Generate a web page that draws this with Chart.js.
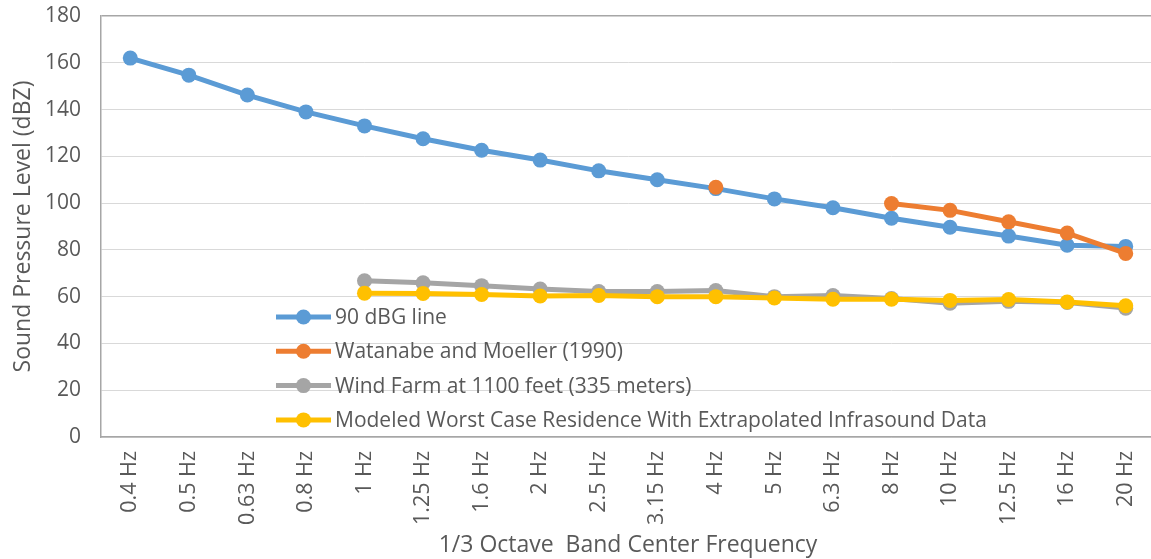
<!DOCTYPE html>
<html>
<head>
<meta charset="utf-8">
<script src="https://cdn.jsdelivr.net/npm/chart.js@4"></script>
<style>
  html, body { margin: 0; padding: 0; background: #fff; overflow: hidden; }
  #wrap { width: 1155px; height: 559px; }
</style>
</head>
<body>
<div id="wrap"><canvas id="myChart"></canvas></div>
<script>
// frekvenser (1/3 oktav)
const bands = ["0.4 Hz","0.5 Hz","0.63 Hz","0.8 Hz","1 Hz","1.25 Hz","1.6 Hz","2 Hz","2.5 Hz",
  "3.15 Hz","4 Hz","5 Hz","6.3 Hz","8 Hz","10 Hz","12.5 Hz","16 Hz","20 Hz"];

const dbgLine   = [162, 154.7, 146.2, 139, 133, 127.5, 122.6, 118.4, 113.8, 110, 106.2, 101.8, 98, 93.5, 89.7, 85.9, 82, 81.5];
const watanabe  = [null, null, null, null, null, null, null, null, null, null, 106.8, null, null, 99.8, 96.9, 92, 87.2, 78.5];
const windFarm  = [null, null, null, null, 66.8, 65.9, 64.7, 63.3, 62.2, 62.2, 62.6, 60, 60.5, 59.2, 57.2, 58, 57.5, 55.1];
const modeled   = [null, null, null, null, 61.5, 61.4, 60.9, 60.3, 60.5, 60, 60, 59.4, 58.9, 58.9, 58.4, 58.8, 57.7, 56.1];

const yTicks = [0, 20, 40, 60, 80, 100, 120, 140, 160, 180];

const seriesNames = ["90 dBG line", "Watanabe and Moeller (1990)", "Wind Farm at 1100 feet (335 meters)",
  "Modeled Worst Case Residence With Extrapolated Infrasound Data"];
const seriesColors = ["#5b9bd5", "#ed7d31", "#a5a5a5", "#ffc000"];

const txt = "#595959";
const fnt = "'Open Sans', 'Noto Sans', sans-serif";

function mkSet(i, vals, ord) {
  return {
    label: seriesNames[i],
    data: vals,
    borderColor: seriesColors[i],
    backgroundColor: seriesColors[i],
    borderWidth: 5,
    pointRadius: 7.5,
    pointHoverRadius: 7.5,
    pointBorderWidth: 0,
    order: ord,
    spanGaps: false
  };
}

// legende inde i plottet, tegnet selv
const legendPlugin = {
  id: "innerLegend",
  afterDraw(chart) {
    const c = chart.ctx;
    const a = chart.chartArea;
    const x0 = a.left + 175;
    const y0 = 317;
    const step = 34.3;
    c.save();
    c.font = "21px " + fnt;
    c.textBaseline = "middle";
    for (let i = 0; i < seriesNames.length; i++) {
      const y = y0 + i * step;
      c.strokeStyle = seriesColors[i];
      c.lineWidth = 5;
      c.beginPath();
      c.moveTo(x0, y);
      c.lineTo(x0 + 55, y);
      c.stroke();
      c.fillStyle = seriesColors[i];
      c.beginPath();
      c.arc(x0 + 27.5, y, 7.5, 0, Math.PI * 2);
      c.fill();
      c.fillStyle = txt;
      c.fillText(seriesNames[i], x0 + 59, y + 1);
    }
    c.restore();
  }
};

const config = {
  type: "line",
  data: {
    labels: bands,
    datasets: [
      mkSet(0, dbgLine, 4),
      mkSet(1, watanabe, 3),
      mkSet(2, windFarm, 2),
      mkSet(3, modeled, 1)
    ]
  },
  options: {
    responsive: true,
    maintainAspectRatio: false,
    animation: false,
    layout: { autoPadding: false, padding: { top: 16, right: 0, left: 10, bottom: 0 } },
    plugins: {
      legend: { display: false },
      tooltip: { enabled: false }
    },
    scales: {
      x: {
        offset: true,
        grid: { display: false, drawTicks: false },
        border: { color: "#a6a6a6", width: 1.5 },
        ticks: {
          color: txt,
          font: { family: fnt, size: 21.5 },
          minRotation: 90,
          maxRotation: 90,
          autoSkip: false,
          padding: 14
        },
        title: {
          display: true,
          text: "1/3 Octave  Band Center Frequency",
          color: txt,
          font: { family: fnt, size: 23 },
          padding: { top: 0, bottom: 0 }
        },
        afterFit(scale) {
          scale.height = 122;
          scale.paddingLeft = 0;
          scale.paddingRight = 0;
        }
      },
      y: {
        min: 0,
        max: 180,
        afterBuildTicks(scale) { scale.ticks = yTicks.map(v => ({ value: v })); },
        grid: {
          color: ctx => (ctx.tick && ctx.tick.value === 180) ? "#a6a6a6" : "#d9d9d9",
          lineWidth: ctx => (ctx.tick && ctx.tick.value === 180) ? 1.5 : 1,
          drawTicks: false
        },
        border: { color: "#a6a6a6", width: 1.5 },
        ticks: {
          color: txt,
          font: { family: fnt, size: 21 },
          padding: 20
        },
        title: {
          display: true,
          text: "Sound Pressure Level (dBZ)",
          color: txt,
          font: { family: fnt, size: 23 },
          padding: { top: 0, bottom: 6 }
        },
        afterFit(scale) {
          scale.width = 91;
          scale.paddingTop = 0;
          scale.paddingBottom = 0;
        }
      }
    }
  },
  plugins: [legendPlugin]
};

const mychart = new Chart(document.getElementById("myChart"), config);
</script>
</body>
</html>
